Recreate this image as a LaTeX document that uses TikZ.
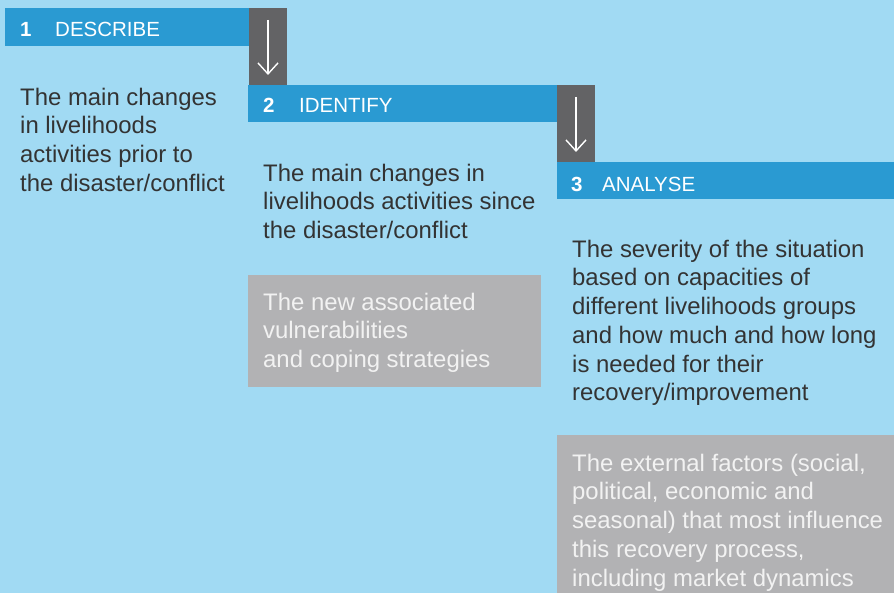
\documentclass[tikz,border=0pt]{standalone}
\usepackage{fontspec}
\setmainfont{Liberation Sans}
\usetikzlibrary{arrows.meta}
\definecolor{bgblue}{HTML}{A1DAF3}
\definecolor{barblue}{HTML}{2A9AD2}
\definecolor{darkgrey}{HTML}{636365}
\definecolor{boxgrey}{HTML}{B2B2B4}
\definecolor{txtdark}{HTML}{333333}
\definecolor{txtlight}{HTML}{F2F2F2}
\tikzset{
  blk/.style={anchor=north west, inner sep=0pt, outer sep=0pt, draw=none},
  headtxt/.style={anchor=base west, inner sep=0pt, text=white, font=\fontsize{20.5}{24}\selectfont},
  headnum/.style={headtxt, font=\fontsize{20.5}{24}\selectfont\bfseries},
  bodytxt/.style={anchor=north west, inner sep=0pt, align=left, text=txtdark, font=\fontsize{23.9}{28.7}\selectfont},
  greytxt/.style={bodytxt, text=txtlight},
  downarrow/.style={draw=white, line width=1.4pt, -{Straight Barb[length=11pt,width=20pt,line width=1.4pt]}}
}
\begin{document}
\begin{tikzpicture}[x=1pt,y=-1pt]
\useasboundingbox (0,0) rectangle (894,593);
\fill[bgblue] (0,0) rectangle (894,593);
% header bars
\node[blk, fill=barblue, minimum width=244pt, minimum height=38pt] (bar1) at (5,8) {};
\node[blk, fill=darkgrey, minimum width=38pt, minimum height=77pt] (arr1) at (249,8) {};
\node[blk, fill=barblue, minimum width=309pt, minimum height=37pt] (bar2) at (248,85) {};
\node[blk, fill=darkgrey, minimum width=38pt, minimum height=77pt] (arr2) at (557,85) {};
\node[blk, fill=barblue, minimum width=337pt, minimum height=37pt] (bar3) at (557,162) {};
% grey boxes
\node[blk, fill=boxgrey, minimum width=293pt, minimum height=112pt] (gbox1) at (248,275) {};
\node[blk, fill=boxgrey, minimum width=337pt, minimum height=158pt] (gbox2) at (557,435) {};
% arrows
\coordinate (a1s) at ([yshift=-12pt]arr1.north);
\coordinate (a1e) at ([yshift=10pt]arr1.south);
\coordinate (a2s) at ([yshift=-12pt]arr2.north);
\coordinate (a2e) at ([yshift=10pt]arr2.south);
\draw[downarrow] (a1s) -- (a1e);
\draw[downarrow] (a2s) -- (a2e);
% header texts
\node[headnum] (n1) at (20,37) {1};
\node[headtxt] (h1) at (55,37) {DESCRIBE};
\node[headnum] (n2) at (263,113) {2};
\node[headtxt] (h2) at (299,113) {IDENTIFY};
\node[headnum] (n3) at (571,192) {3};
\node[headtxt] (h3) at (602,192) {ANALYSE};
% body texts
\node[bodytxt] (t1) at (20,85) {\strut The main changes\\in livelihoods\\activities prior to\\the disaster/conflict};
\node[bodytxt] (t2) at (263,161) {\strut The main changes in\\livelihoods activities since\\the disaster/conflict};
\node[greytxt] (g1) at (263,290) {\strut The new associated\\vulnerabilities\\and coping strategies};
\node[bodytxt] (t3) at (572,237) {\strut The severity of the situation\\based on capacities of\\different livelihoods groups\\and how much and how long\\is needed for their\\recovery/improvement};
\node[greytxt] (g2) at (572,451) {\strut The external factors (social,\\political, economic and\\seasonal) that most influence\\this recovery process,\\including market dynamics};
\end{tikzpicture}
\end{document}
